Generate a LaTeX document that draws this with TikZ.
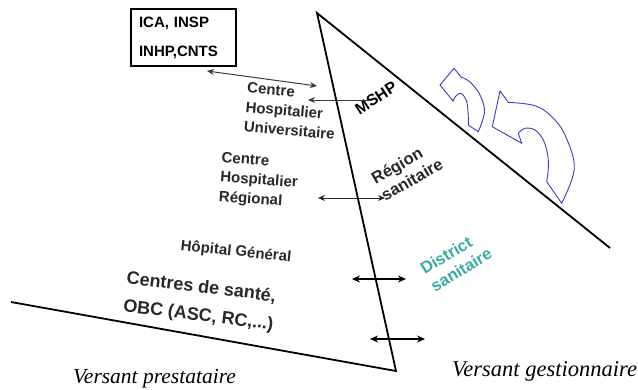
\documentclass[tikz,border=0pt]{standalone}
\usepackage{fontspec}
\setmainfont{Liberation Serif}
\newfontfamily\arial{Liberation Sans}
\usetikzlibrary{arrows.meta}
\definecolor{txtgray}{RGB}{40,40,40}
\definecolor{arrgray}{RGB}{60,60,60}
\definecolor{teal2}{RGB}{58,170,160}
\definecolor{bluearr}{RGB}{60,60,190}
\tikzset{
  lbl/.style={font=\arial\bfseries\fontsize{15}{19.5}\selectfont, text=txtgray, align=left, inner sep=0pt},
  biglbl/.style={font=\arial\bfseries\fontsize{18}{28}\selectfont, text=txtgray, align=left, inner sep=0pt},
  versant/.style={font=\itshape, inner sep=0pt, anchor=base west},
  thinarr/.style={draw=arrgray, line width=1pt, {Stealth[length=7pt,width=6pt]}-{Stealth[length=7pt,width=6pt]}},
  thickarr/.style={draw=black, line width=1.6pt, {Stealth[length=8pt,width=7pt]}-{Stealth[length=8pt,width=7pt]}},
  edge/.style={line width=1.8pt, line join=miter},
  turn/.style={draw=bluearr, line width=0.9pt, line join=miter}
}
\begin{document}
\begin{tikzpicture}[x=1pt,y=-1pt]
\useasboundingbox (0,0) rectangle (638,389);
% triangle / versants
\coordinate (top) at (317,13);
\coordinate (bot) at (396,371);
\coordinate (right) at (610,248);
\coordinate (left) at (11,302);
\draw[edge] (right) -- (top) -- (bot) -- (left);

% box
\node[draw, line width=2.4pt, minimum width=105pt, minimum height=57pt, text width=89pt, align=left, inner sep=0pt,
      font=\arial\bfseries\fontsize{15}{29}\selectfont] (box) at (183.5,37.5) {ICA, INSP\\INHP,CNTS};

% labels
\node[lbl, rotate=-5] (chu) at (291,111) {Centre\\Hospitalier\\Universitaire};
\node[lbl, rotate=-4] (chr) at (259,181) {Centre\\Hospitalier\\Régional};
\node[lbl, rotate=-6] (hg) at (236,252) {Hôpital Général};
\node[biglbl, rotate=-7] (cs) at (200,302) {Centres de santé,\\OBC (ASC, RC,...)};
\node[lbl, text=black, font=\arial\bfseries\fontsize{16}{18}\selectfont, rotate=33] (mshp) at (376,98) {MSHP};
\node[lbl, font=\arial\bfseries\fontsize{16.5}{19.5}\selectfont, rotate=30] (rs) at (407,171) {Région\\sanitaire};
\node[lbl, text=teal2, font=\arial\bfseries\fontsize{16.5}{20}\selectfont, rotate=31] (ds) at (456,261) {District\\sanitaire};
\node[versant, font=\itshape\fontsize{21.5}{24}\selectfont] (vp) at (73,383) {Versant prestataire};
\node[versant, font=\itshape\fontsize{22.5}{26}\selectfont] (vg) at (452,376) {Versant gestionnaire};

% connectors
\coordinate (a1s) at (207,71); \coordinate (a1e) at (317,86);
\coordinate (a2s) at (372,100); \coordinate (a2e) at (308,100);
\coordinate (a3s) at (318,198); \coordinate (a3e) at (385,198);
\coordinate (a4s) at (352,279); \coordinate (a4e) at (406,279);
\coordinate (a5s) at (370,339); \coordinate (a5e) at (425,339);
\draw[thinarr] (a1s) -- (a1e);
\draw[draw=arrgray, line width=1pt, -{Stealth[length=7pt,width=6pt]}] (a2s) -- (a2e);
\draw[thinarr, draw=black!85] (a3s) -- (a3e);
\draw[thickarr] (a4s) -- (a4e);
\draw[thickarr] (a5s) -- (a5e);

% blue turning arrows
\draw[turn] (454,68.3) -- (440,85) -- (453,101) -- (455,97)
  -- plot[smooth, tension=0.6] coordinates {(455,97) (461,93.3) (466.7,101.7) (468.3,116.7) (468.3,125)}
  -- (478.3,131.7)
  -- plot[smooth, tension=0.6] coordinates {(478.3,131.7) (484.5,112) (480,95) (470,82) (461,77)}
  -- cycle;
\draw[turn] (500,91) -- (492.3,126.7) -- (521.7,143.3) -- (518.3,133.3)
  -- plot[smooth, tension=0.6] coordinates {(518.3,133.3) (525,128.3) (535,130) (543.3,140) (547.7,155) (548.3,168.3) (546.7,181.7)}
  -- (561.7,203.3)
  -- plot[smooth, tension=0.6] coordinates {(561.7,203.3) (574.3,168.3) (565,135) (551.7,116.7) (535,105.7) (508.3,102.3)}
  -- cycle;
\end{tikzpicture}
\end{document}
